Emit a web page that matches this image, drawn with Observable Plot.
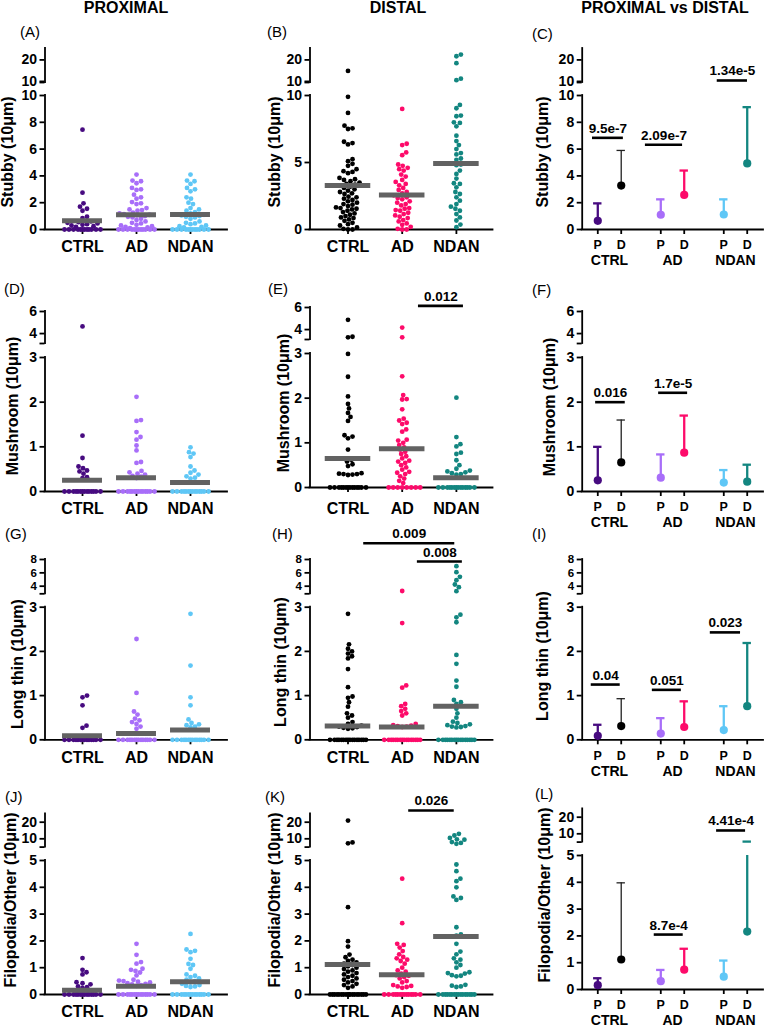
<!DOCTYPE html>
<html><head><meta charset="utf-8">
<script src="https://cdn.jsdelivr.net/npm/d3@7"></script>
<script src="https://cdn.jsdelivr.net/npm/@observablehq/plot@0.6"></script>
<style>
html,body{margin:0;padding:0;background:#fff;}
#fig{position:relative;width:765px;height:1028px;overflow:hidden;background:#fff;font-family:"Liberation Sans",Arial,Helvetica,sans-serif;color:#000;}
.lbl{position:absolute;white-space:nowrap;line-height:1;color:#000;}
#fig svg{position:absolute;top:0;}
</style></head><body><div id="fig"></div>
<script>
// ---------- categories & text ----------
const GROUPS = ["CTRL", "AD", "NDAN"];
const SIDES = ["P", "D"];
const COLUMN_TITLES = ["PROXIMAL", "DISTAL", "PROXIMAL vs DISTAL"];
const MEASURES = ["Stubby (10μm)", "Mushroom (10μm)", "Long thin (10μm)", "Filopodia/Other (10μm)"];
const LETTERS = ["A","B","C","D","E","F","G","H","I","J","K","L"];

// ---------- tick labels ----------
const stubbyTicks = [0, 2, 4, 6, 8, 10];
const stubbyDistTicks = [0, 5, 10];
const stubbyTopTicks = [10, 20];
const mushTicks = [0, 1, 2, 3];
const mushTopTicks = [4, 6];
const longTicks = [0, 1, 2, 3];
const longTopTicks = [4, 6, 8];
const filoTicks = [0, 1, 2, 3, 4, 5];
const filoTopTicks = [10, 20];

// ---------- Stubby ----------
const stubbyProxCTRL = [7.45, 2.75, 1.95, 1.7, 1.55, 1.4, 0.95, 0.85, 0.6, 0.55, 0.5, 0.45, 0.4, 0.35, 0.3, 0.25, 0.2, 0, 0, 0, 0, 0, 0, 0, 0, 0, 0, 0, 0];
const stubbyProxAD = [4.1, 3.65, 3.6, 3.45, 3.1, 3.0, 2.95, 2.6, 2.4, 2.3, 2.05, 1.95, 1.9, 1.6, 1.5, 1.45, 1.4, 1.25, 1.2, 1.15, 1.1, 1.05, 1.0, 0.95, 0.9, 0.8, 0.7, 0.6, 0.5, 0.45, 0.35, 0.3, 0.25, 0.2, 0.15, 0.1, 0, 0, 0, 0, 0, 0, 0, 0, 0, 0, 0, 0];
const stubbyProxNDAN = [4.1, 3.65, 3.6, 3.4, 3.1, 3.0, 2.85, 2.4, 2.3, 2.0, 1.9, 1.6, 1.5, 1.4, 1.3, 1.2, 1.1, 1.05, 1.0, 0.95, 0.9, 0.8, 0.6, 0.5, 0.45, 0.4, 0.3, 0.25, 0.2, 0.15, 0, 0, 0, 0, 0, 0, 0, 0, 0, 0, 0, 0];
const stubbyDistCTRL = [14.9, 9.9, 8.7, 7.75, 7.55, 7.5, 6.55, 6.45, 6.35, 5.25, 5.1, 4.9, 4.75, 4.5, 4.35, 4.3, 4.2, 3.85, 3.75, 3.7, 3.6, 3.5, 3.4, 3.35, 3.3, 3.2, 3.1, 3.0, 2.9, 2.8, 2.7, 2.65, 2.45, 2.4, 2.3, 2.2, 2.1, 2.0, 1.9, 1.85, 1.75, 1.65, 1.6, 1.55, 1.5, 1.4, 1.3, 1.2, 1.1, 1.0, 0.9, 0.85, 0.75, 0.65, 0.5, 0.4, 0.3, 0.15, 0.05, 0, 0];
const stubbyDistAD = [9.0, 6.4, 6.3, 5.75, 5.55, 4.85, 4.75, 4.6, 4.5, 4.4, 4.1, 3.95, 3.7, 3.55, 3.4, 3.3, 3.1, 2.95, 2.8, 2.7, 2.55, 2.4, 2.35, 2.25, 2.1, 2.0, 1.9, 1.8, 1.6, 1.55, 1.45, 1.4, 1.25, 1.15, 1.05, 0.95, 0.85, 0.7, 0.6, 0.45, 0.35, 0.2, 0.05, 0, 0];
const stubbyDistNDAN = [22.5, 21.7, 18.5, 11.3, 10.6, 9.3, 9.05, 8.5, 8.45, 8.0, 7.95, 7.7, 7.0, 6.6, 6.3, 6.0, 5.7, 5.6, 5.3, 5.2, 4.85, 4.8, 4.4, 4.15, 3.8, 3.45, 3.4, 3.15, 2.8, 2.65, 2.4, 2.15, 1.9, 1.7, 1.55, 1.4, 1.15, 0.9, 0.67, 0.37, 0.17];
const stubbyProxMean = [0.65, 1.1, 1.12];
const stubbyDistMean = [3.28, 2.58, 4.93];
const stubbyProxSD = [1.3, 1.15, 1.13];
const stubbyDistSD = [2.62, 1.82, 4.2];

// ---------- Mushroom ----------
const mushProxCTRL = [4.65, 1.25, 0.75, 0.56, 0.52, 0.47, 0.45, 0.4, 0.32, 0.3, 0, 0, 0, 0, 0, 0, 0, 0, 0, 0, 0, 0, 0, 0];
const mushProxAD = [2.12, 1.6, 1.58, 1.33, 1.22, 1.16, 1.03, 0.92, 0.66, 0.64, 0.46, 0.43, 0.4, 0.38, 0.35, 0.33, 0.3, 0, 0, 0, 0, 0, 0, 0, 0, 0, 0, 0, 0, 0, 0];
const mushProxNDAN = [0.99, 0.88, 0.85, 0.77, 0.56, 0.47, 0.42, 0.38, 0.34, 0.31, 0.29, 0, 0, 0, 0, 0, 0, 0, 0, 0, 0, 0, 0, 0, 0];
const mushDistCTRL = [4.88, 3.35, 3.3, 2.99, 2.48, 2.04, 1.87, 1.77, 1.67, 1.58, 1.49, 1.17, 1.14, 1.1, 0.85, 0.62, 0.58, 0.52, 0.48, 0.32, 0.31, 0.3, 0.3, 0.29, 0.28, 0, 0, 0, 0, 0, 0, 0, 0, 0, 0, 0, 0, 0, 0];
const mushDistAD = [4.18, 3.3, 2.49, 2.07, 1.98, 1.97, 1.75, 1.54, 1.5, 1.45, 1.42, 1.3, 1.25, 1.07, 1.05, 1.0, 0.95, 0.9, 0.85, 0.8, 0.75, 0.7, 0.65, 0.6, 0.58, 0.55, 0.5, 0.45, 0.4, 0.35, 0.33, 0.3, 0.25, 0.2, 0.15, 0.1, 0, 0, 0, 0, 0, 0, 0, 0];
const mushDistNDAN = [2.01, 1.13, 0.97, 0.92, 0.78, 0.75, 0.61, 0.5, 0.42, 0.38, 0.36, 0.34, 0.32, 0.3, 0.29, 0, 0, 0, 0, 0, 0, 0, 0, 0, 0, 0, 0, 0, 0];
const mushProxMean = [0.25, 0.31, 0.2];
const mushDistMean = [0.65, 0.87, 0.22];
const mushProxSD = [0.75, 0.52, 0.28];
const mushDistSD = [0.95, 0.83, 0.38];

// ---------- Long thin ----------
const longProxCTRL = [1.0, 0.96, 0.78, 0.32, 0.27, 0, 0, 0, 0, 0, 0, 0, 0, 0, 0, 0, 0, 0, 0];
const longProxAD = [2.28, 1.06, 0.64, 0.57, 0.48, 0.44, 0.4, 0.36, 0.3, 0.25, 0, 0, 0, 0, 0, 0, 0, 0, 0, 0, 0, 0, 0, 0];
const longProxNDAN = [2.85, 1.68, 0.96, 0.78, 0.46, 0.38, 0.35, 0.33, 0.3, 0.28, 0, 0, 0, 0, 0, 0, 0, 0, 0, 0, 0, 0, 0, 0];
const longDistCTRL = [2.85, 2.16, 2.06, 2.0, 1.95, 1.89, 1.84, 1.6, 1.19, 0.98, 0.95, 0.85, 0.75, 0.6, 0.55, 0.5, 0.4, 0.36, 0.32, 0.3, 0.29, 0.27, 0.26, 0.25, 0, 0, 0, 0, 0, 0, 0, 0, 0, 0, 0, 0, 0, 0, 0, 0];
const longDistAD = [3.28, 2.64, 1.23, 1.18, 0.81, 0.76, 0.7, 0.65, 0.6, 0.55, 0.36, 0.33, 0.32, 0.31, 0.3, 0.29, 0, 0, 0, 0, 0, 0, 0, 0, 0, 0, 0, 0, 0, 0, 0, 0];
const longDistNDAN = [7.0, 6.1, 5.4, 4.9, 4.25, 3.85, 3.25, 2.83, 2.77, 2.66, 1.92, 1.72, 1.34, 1.2, 0.9, 0.85, 0.81, 0.7, 0.6, 0.5, 0.41, 0.38, 0.35, 0.33, 0.31, 0.3, 0.29, 0.28, 0, 0, 0, 0, 0, 0, 0, 0, 0, 0, 0, 0, 0, 0, 0, 0];
const longProxMean = [0.09, 0.14, 0.22];
const longDistMean = [0.31, 0.29, 0.76];
const longProxSD = [0.25, 0.35, 0.54];
const longDistSD = [0.62, 0.58, 1.43];

// ---------- Filopodia/Other ----------
const filoProxCTRL = [1.36, 0.92, 0.83, 0.75, 0.46, 0.42, 0.38, 0.3, 0.27, 0.25, 0, 0, 0, 0, 0, 0, 0, 0, 0, 0, 0, 0, 0, 0];
const filoProxAD = [1.89, 1.48, 1.21, 1.15, 0.96, 0.92, 0.88, 0.82, 0.71, 0.55, 0.52, 0.5, 0.48, 0.45, 0.42, 0.4, 0.38, 0.35, 0.32, 0, 0, 0, 0, 0, 0, 0, 0, 0, 0, 0, 0, 0, 0];
const filoProxNDAN = [2.26, 1.68, 1.63, 1.58, 1.33, 1.14, 1.1, 0.96, 0.75, 0.7, 0.65, 0.6, 0.55, 0.5, 0.45, 0.4, 0.35, 0.32, 0.3, 0.28, 0, 0, 0, 0, 0, 0, 0, 0, 0, 0, 0, 0, 0, 0];
const filoDistCTRL = [21, 7.8, 7.3, 3.26, 1.99, 1.79, 1.49, 1.39, 1.3, 1.25, 1.2, 1.15, 1.1, 1.05, 1.0, 0.95, 0.9, 0.85, 0.8, 0.75, 0.7, 0.65, 0.6, 0.55, 0.5, 0.45, 0.4, 0.35, 0.3, 0.25, 0, 0, 0, 0, 0, 0, 0, 0, 0, 0, 0, 0, 0, 0, 0, 0, 0, 0];
const filoDistAD = [4.32, 2.66, 1.89, 1.85, 1.75, 1.62, 1.5, 1.4, 1.35, 1.3, 1.25, 1.15, 1.0, 0.9, 0.85, 0.78, 0.72, 0.7, 0.65, 0.6, 0.5, 0.45, 0.35, 0.32, 0.3, 0.28, 0.25, 0, 0, 0, 0, 0, 0, 0, 0, 0, 0, 0, 0, 0, 0];
const filoDistNDAN = [13, 12, 10.5, 9.7, 9.5, 8.0, 7.5, 7.0, 4.85, 4.6, 4.32, 4.23, 4.0, 3.66, 3.6, 3.53, 2.51, 2.24, 2.2, 1.89, 1.6, 1.5, 1.35, 1.3, 1.2, 1.1, 1.0, 0.83, 0.8, 0.78, 0.72, 0.7, 0.68, 0.36, 0.33, 0.3, 0.28, 0, 0, 0, 0, 0, 0, 0, 0, 0, 0, 0, 0, 0, 0, 0, 0];
const filoProxMean = [0.16, 0.31, 0.48];
const filoDistMean = [1.12, 0.74, 2.16];
const filoProxSD = [0.26, 0.42, 0.6];
const filoDistSD = [2.86, 0.78, 3.14];

// ---------- significance annotations ----------
const annC = [{label: "9.5e-7", y: 6.84, x1: -0.27, x2: 0.22}, {label: "2.09e-7", y: 6.32, x1: 0.57, x2: 1.16}, {label: "1.34e-5", y: 10.43, x1: 1.71, x2: 2.19}];
const annE = [{label: "0.012", y: 6.15, x1: 1.30, x2: 2.13}];
const annF = [{label: "0.016", y: 2.0, x1: -0.22, x2: 0.25}, {label: "1.7e-5", y: 2.21, x1: 0.78, x2: 1.24}];
const annH = [{label: "0.009", y: 10.44, x1: 0.29, x2: 1.97}, {label: "0.008", y: 7.7, x1: 1.28, x2: 2.11}];
const annI = [{label: "0.04", y: 1.25, x1: -0.29, x2: 0.17}, {label: "0.051", y: 1.13, x1: 0.68, x2: 1.14}, {label: "0.023", y: 2.43, x1: 1.6, x2: 2.08}];
const annK = [{label: "0.026", y: 27.05, x1: 1.12, x2: 1.96}];
const annL = [{label: "8.7e-4", y: 2.05, x1: 0.71, x2: 1.17}, {label: "4.41e-4", y: 12.0, x1: 1.7, x2: 2.16}];

// ---------- styling / layout ----------
const proxColors = ["#470b80", "#a86ef9", "#5fc7f6"];
const distColors = ["#000000", "#fd0b6a", "#138680"];
const FONT = '"Liberation Sans", Arial, Helvetica, sans-serif';
const H = 1028, CW = 255, AXW = 1.8, PD = 0.186;
const COLS = [
  {left: 0, axisL: 44.5, axisR: 227, x0: 82, step: 54, halfMean: 0.37},
  {left: 255, axisL: 309.5, axisR: 492.5, x0: 347.5, step: 54.2, halfMean: 0.42},
  {left: 510, axisL: 581.7, axisR: 763, x0: 609, step: 63}
];
const ROWS = [
  {y0: 229, yLowTop: 95, lowMax: 10, yBreak: 82, yTop: 48, topLo: 9.5, topHi: 25.3, topFont: 14},
  {y0: 491, yLowTop: 357, lowMax: 3, yBreak: 343, yTop: 311, topLo: 3.1, topHi: 6, topFont: 14},
  {y0: 739.3, yLowTop: 606.7, lowMax: 3, yBreak: 593.3, yTop: 559, topLo: 2.86, topHi: 8, topFont: 11.5},
  {y0: 994, yLowTop: 860, lowMax: 5, yBreak: 846.6, yTop: 813.4, topLo: 5, topHi: 25, topFont: 14}
];
const PANELS = [
  {col: 0, row: 0, groups: [stubbyProxCTRL, stubbyProxAD, stubbyProxNDAN], mean: stubbyProxMean, colors: proxColors, lowTicks: stubbyTicks, topTicks: stubbyTopTicks, ann: []},
  {col: 1, row: 0, groups: [stubbyDistCTRL, stubbyDistAD, stubbyDistNDAN], mean: stubbyDistMean, colors: distColors, lowTicks: stubbyDistTicks, topTicks: stubbyTopTicks, ann: []},
  {col: 2, row: 0, pvd: true, mean: [stubbyProxMean, stubbyDistMean], sd: [stubbyProxSD, stubbyDistSD], lowTicks: stubbyTicks, topTicks: stubbyTopTicks, ann: annC},
  {col: 0, row: 1, groups: [mushProxCTRL, mushProxAD, mushProxNDAN], mean: mushProxMean, colors: proxColors, lowTicks: mushTicks, topTicks: mushTopTicks, ann: []},
  {col: 1, row: 1, dy: -4, xpad: 10, groups: [mushDistCTRL, mushDistAD, mushDistNDAN], mean: mushDistMean, colors: distColors, lowTicks: mushTicks, topTicks: mushTopTicks, ann: annE},
  {col: 2, row: 1, pvd: true, mean: [mushProxMean, mushDistMean], sd: [mushProxSD, mushDistSD], lowTicks: mushTicks, topTicks: mushTopTicks, ann: annF},
  {col: 0, row: 2, groups: [longProxCTRL, longProxAD, longProxNDAN], mean: longProxMean, colors: proxColors, lowTicks: longTicks, topTicks: longTopTicks, ann: []},
  {col: 1, row: 2, groups: [longDistCTRL, longDistAD, longDistNDAN], mean: longDistMean, colors: distColors, lowTicks: longTicks, topTicks: longTopTicks, ann: annH},
  {col: 2, row: 2, pvd: true, mean: [longProxMean, longDistMean], sd: [longProxSD, longDistSD], lowTicks: longTicks, topTicks: longTopTicks, ann: annI},
  {col: 0, row: 3, groups: [filoProxCTRL, filoProxAD, filoProxNDAN], mean: filoProxMean, colors: proxColors, lowTicks: filoTicks, topTicks: filoTopTicks, ann: []},
  {col: 1, row: 3, groups: [filoDistCTRL, filoDistAD, filoDistNDAN], mean: filoDistMean, colors: distColors, lowTicks: filoTicks, topTicks: filoTopTicks, ann: annK},
  {col: 2, row: 3, dy: -5, pvd: true, mean: [filoProxMean, filoDistMean], sd: [filoProxSD, filoDistSD], lowTicks: filoTicks, topTicks: filoTopTicks, ann: annL}
];
const LETTER_POS = [[20,37],[267,37],[532,39],[4,294],[268,294],[532,295],[5,539],[272,539],[532,539],[5,802],[265,802],[535,799]];
const YLAB_POS = [[8,152],[275,152],[543,152],[13,406],[284,403],[550,407],[18,664],[281,662],[543,656],[11,900],[275,900],[545,895]];
const HEADER_X = [126, 398, 665];

const fig = document.getElementById("fig");
function addText(s, x, base, size, weight, anchor) {
  const d = document.createElement("div");
  d.className = "lbl"; d.textContent = s;
  d.style.fontSize = size + "px"; d.style.fontWeight = weight;
  d.style.left = x + "px"; d.style.top = (base - 0.8465 * size) + "px";
  if (anchor === "middle") d.style.transform = "translateX(-50%)";
  fig.appendChild(d);
}
function addRotated(s, cx, cy, size) {
  const d = document.createElement("div");
  d.className = "lbl"; d.textContent = s;
  d.style.fontSize = size + "px"; d.style.fontWeight = "bold";
  d.style.left = cx + "px"; d.style.top = cy + "px";
  d.style.transform = "translate(-50%,-50%) rotate(-90deg)";
  fig.appendChild(d);
}

// greedy beeswarm offsets (pixels), computed from each value's pixel row
function swarm(vals, toPx, diam, maxHalf) {
  const order = d3.range(vals.length).sort((a, b) => vals[a] - vals[b]);
  const cands = [0];
  for (let s = 0.5; s <= maxHalf; s += 0.5) cands.push(s, -s);
  const placed = [], out = new Array(vals.length);
  for (const i of order) {
    const y = toPx(vals[i]);
    let best = 0, bestScore = -1;
    for (const c of cands) {
      let minD = Infinity;
      for (const p of placed) {
        const dx = c - p[0], dy = y - p[1];
        const dd = dx * dx + dy * dy;
        if (dd < minD) minD = dd;
      }
      if (minD >= diam * diam) { best = c; bestScore = Infinity; break; }
      if (minD > bestScore) { bestScore = minD; best = c; }
    }
    out[i] = best; placed.push([best, y]);
  }
  return out;
}

const STYLE = {background: "none", overflow: "visible", maxWidth: "none", fontFamily: FONT, color: "#000"};
const fmt = d => String(d);

PANELS.forEach((p, pi) => {
  const C = COLS[p.col], R = ROWS[p.row], dy = p.dy || 0;
  const xmin = (C.axisL - C.x0) / C.step, xmax = (C.axisR - C.x0) / C.step;
  const y0 = R.y0 + dy, yLT = R.yLowTop + dy, yB = R.yBreak + dy, yT = R.yTop + dy;
  const base = {
    width: CW, height: H,
    marginLeft: C.axisL - C.left, marginRight: C.left + CW - C.axisR,
    x: {domain: [xmin, xmax], axis: null},
    color: {type: "identity"},
    style: STYLE
  };
  const low = [], top = [];
  // axis lines
  low.push(Plot.ruleX([xmin], {y1: () => 0, y2: () => R.lowMax, strokeWidth: AXW, strokeLinecap: "square"}));
  low.push(Plot.ruleY([0], {x1: () => xmin, x2: () => xmax, strokeWidth: AXW, strokeLinecap: "square"}));
  low.push(Plot.axisY({ticks: p.lowTicks, tickFormat: fmt, tickSize: 5, tickPadding: 3, fontSize: 14, fontWeight: "bold", strokeWidth: AXW, label: null}));
  top.push(Plot.ruleX([xmin], {y1: () => R.topLo, y2: () => R.topHi, strokeWidth: AXW, strokeLinecap: "square"}));
  top.push(Plot.axisY({ticks: p.topTicks, tickFormat: fmt, tickSize: 5, tickPadding: 3, fontSize: R.topFont, fontWeight: "bold", strokeWidth: AXW, label: null}));
  top.push(Plot.axisY({ticks: [R.topLo], tickFormat: () => "", tickSize: 5, strokeWidth: AXW, label: null}));

  if (!p.pvd) {
    low.push(Plot.axisX({ticks: [0, 1, 2], tickFormat: i => GROUPS[i], tickSize: 5, tickPadding: p.xpad || 6.5, fontSize: 16, fontWeight: "bold", strokeWidth: AXW, label: null}));
    const toPxLow = d3.scaleLinear([0, R.lowMax], [y0, yLT]);
    const toPxTop = d3.scaleLinear([R.topLo, R.topHi], [yB, yT]);
    const toPx = v => v <= R.lowMax ? toPxLow(v) : toPxTop(v);
    const dots = [];
    p.groups.forEach((vals, gi) => {
      const offs = swarm(vals, toPx, 4.5, 19);
      vals.forEach((v, k) => dots.push({x: gi + offs[k] / C.step, v, c: p.colors[gi]}));
    });
    low.push(Plot.dot(dots.filter(d => d.v <= R.lowMax), {x: "x", y: "v", r: 2.4, fill: "c"}));
    top.push(Plot.dot(dots.filter(d => d.v > R.lowMax), {x: "x", y: "v", r: 2.4, fill: "c"}));
    const means = p.mean.map((m, gi) => ({gi, m}));
    low.push(Plot.ruleY(means, {y: "m", x1: d => d.gi - C.halfMean, x2: d => d.gi + C.halfMean, stroke: "#626262", strokeWidth: 5}));
  } else {
    const pdTicks = [-PD, PD, 1 - PD, 1 + PD, 2 - PD, 2 + PD];
    const pdMap = new Map(pdTicks.map((t, i) => [t, SIDES[i % 2]]));
    low.push(Plot.axisX({ticks: pdTicks, tickFormat: d => pdMap.get(d), tickSize: 5, tickPadding: 6, fontSize: 12.5, fontWeight: "bold", strokeWidth: AXW, label: null}));
    low.push(Plot.axisX({ticks: [0, 1, 2], tickFormat: i => GROUPS[i], tickSize: 0, tickPadding: 26, fontSize: 14, fontWeight: "bold", label: null}));
    const recs = [];
    [0, 1, 2].forEach(gi => [0, 1].forEach(si => {
      const m = p.mean[si][gi], t = m + p.sd[si][gi];
      const col = (si ? distColors : proxColors)[gi];
      recs.push({x: gi + (si ? PD : -PD), m, t, c: col, lc: col === "#000000" ? "#222222" : col, w: col === "#000000" ? 1.3 : 2.3});
    }));
    const cap = 4.2 / C.step;
    low.push(Plot.ruleX(recs, {x: "x", y1: "m", y2: d => Math.min(d.t, R.lowMax), stroke: "lc", strokeWidth: "w"}));
    low.push(Plot.ruleY(recs.filter(d => d.t <= R.lowMax), {y: "t", x1: d => d.x - cap, x2: d => d.x + cap, stroke: "lc", strokeWidth: "w"}));
    const hi = recs.filter(d => d.t > R.lowMax);
    top.push(Plot.ruleX(hi, {x: "x", y1: d => Math.max(d.m, R.topLo), y2: "t", stroke: "lc", strokeWidth: "w"}));
    top.push(Plot.ruleY(hi, {y: "t", x1: d => d.x - cap, x2: d => d.x + cap, stroke: "lc", strokeWidth: "w"}));
    low.push(Plot.dot(recs, {x: "x", y: "m", r: 4.1, fill: "c"}));
  }
  // significance bars
  const annLow = p.ann.filter(a => a.y <= R.lowMax), annTop = p.ann.filter(a => a.y > R.lowMax);
  for (const [arr, marks] of [[annLow, low], [annTop, top]]) {
    marks.push(Plot.ruleY(arr, {y: "y", x1: "x1", x2: "x2", strokeWidth: 2.6}));
    marks.push(Plot.text(arr, {x: d => (d.x1 + d.x2) / 2, y: "y", text: "label", dy: -5, lineAnchor: "bottom", fontSize: 13.5, fontWeight: "bold", fill: "#000"}));
  }
  const lowSvg = Plot.plot({...base, marginTop: yLT, marginBottom: H - y0, y: {domain: [0, R.lowMax], axis: null, label: null}, marks: low});
  const topSvg = Plot.plot({...base, marginTop: yT, marginBottom: H - yB, y: {domain: [R.topLo, R.topHi], axis: null, label: null}, marks: top});
  for (const s of [lowSvg, topSvg]) { s.style.left = C.left + "px"; s.style.position = "absolute"; s.style.top = "0px"; fig.appendChild(s); }

  addText("(" + LETTERS[pi] + ")", LETTER_POS[pi][0], LETTER_POS[pi][1], 15, "normal");
  addRotated(MEASURES[p.row], YLAB_POS[pi][0], YLAB_POS[pi][1], 16);
});
COLUMN_TITLES.forEach((t, i) => addText(t, HEADER_X[i], 13.5, 16, "bold", "middle"));
</script></body></html>
